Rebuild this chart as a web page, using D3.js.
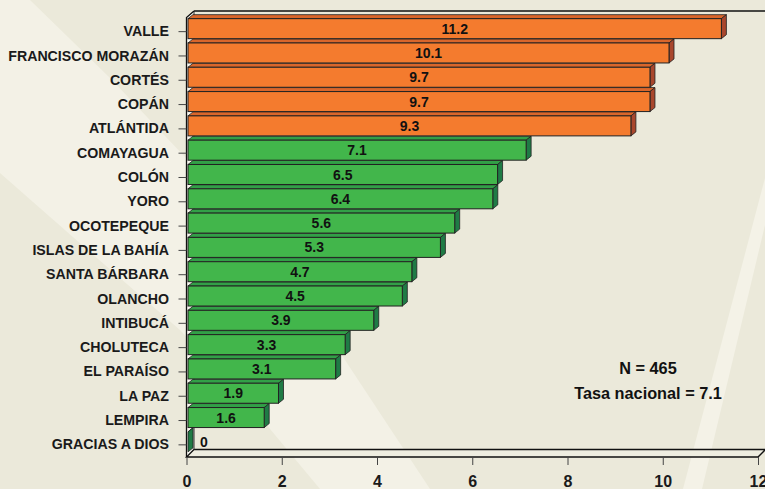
<!DOCTYPE html>
<html>
<head>
<meta charset="utf-8">
<script src="https://cdn.jsdelivr.net/npm/d3@7"></script>
<style>
  body { margin: 0; background: #ebe9da; }
  svg { display: block; font-family: "Liberation Sans", Arial, sans-serif; font-weight: bold; }
</style>
</head>
<body>
<div id="chart"></div>
<script>
// departamentos, ordered as drawn from top to bottom
var departamentos = ["VALLE", "FRANCISCO MORAZÁN", "CORTÉS", "COPÁN", "ATLÁNTIDA",
    "COMAYAGUA", "COLÓN", "YORO", "OCOTEPEQUE", "ISLAS DE LA BAHÍA", "SANTA BÁRBARA",
    "OLANCHO", "INTIBUCÁ", "CHOLUTECA", "EL PARAÍSO", "LA PAZ", "LEMPIRA", "GRACIAS A DIOS"];
var tasas = [11.2, 10.1, 9.7, 9.7, 9.3, 7.1, 6.5, 6.4, 5.6, 5.3, 4.7, 4.5, 3.9, 3.3, 3.1, 1.9, 1.6, 0];
var tasaNacional = 7.1;
var totalN = 465;
var xTicks = [0, 2, 4, 6, 8, 10, 12];

var width = 765, height = 489;
var margin = {top: 19.5, right: 7, bottom: 32, left: 186.5};

var svg = d3.select("#chart").append("svg")
    .attr("width", width)
    .attr("height", height);

// background with light diagonal bands
svg.append("rect").attr("width", width).attr("height", height).attr("fill", "#ebe9da");
svg.append("path")
    .attr("d", "M0,0 L30,0 L110,78 L185,157 L265,262 L343,357 L430,489 L320,489 L250,405 L180,330 L90,252 L0,173 Z")
    .attr("fill", "#f3f1e6");
svg.append("path")
    .attr("d", "M765,178 L765,225 L702,489 L683,489 Z")
    .attr("fill", "#f4f2e7");

var x = d3.scaleLinear()
    .domain([0, 12])
    .range([margin.left, width - margin.right]);

var y = d3.scaleBand()
    .domain(departamentos)
    .range([margin.top, height - margin.bottom])
    .padding(0);

var x0 = x(0), x1 = x(12), yBottom = height - margin.bottom;
var wd = 7.5; // wall depth

// left wall and floor
svg.append("polygon")
    .attr("points", [[x0, 17.5], [x0 + wd, 11], [x0 + wd, yBottom - wd], [x0, yBottom]].join(" "))
    .attr("fill", "#f7f6ef");
svg.append("polygon")
    .attr("points", [[x0, yBottom], [x1, yBottom], [x1 + wd, yBottom - wd], [x0 + wd, yBottom - wd]].join(" "))
    .attr("fill", "#eeede0")
    .attr("stroke", "#111")
    .attr("stroke-width", 1.3);
svg.append("line")
    .attr("x1", x0 + wd).attr("y1", 11).attr("x2", width).attr("y2", 11)
    .attr("stroke", "#111").attr("stroke-width", 1.3);
svg.append("line")
    .attr("x1", x0 + wd).attr("y1", 11).attr("x2", x0 + wd).attr("y2", yBottom - wd)
    .attr("stroke", "#333").attr("stroke-width", 1);
svg.append("path")
    .attr("d", "M" + x0 + "," + yBottom + " L" + x0 + ",17.5 L" + (x0 + wd) + ",11")
    .attr("fill", "none").attr("stroke", "#111").attr("stroke-width", 1.3);

// bars
var bh = 20, dx = 5, dy = 4, shift = 1.5;
var data = departamentos.map(function(d, i) { return {name: d, value: tasas[i], idx: i}; });

function colors(d) {
    if (d.idx < 5) return {front: "#f47b2e", top: "#d9662b", side: "#a9472d"};
    return {front: "#42b64b", top: "#32a047", side: "#1f7b45"};
}

var bars = svg.append("g").selectAll("g.bar")
    .data(data.slice().reverse())
    .enter().append("g").attr("class", "bar");

bars.each(function(d) {
    var g = d3.select(this);
    var c = colors(d);
    var fx0 = x(0) + shift, fx1 = x(d.value) + shift;
    var fy = y(d.name) + (y.bandwidth() - bh) / 2 - 3;
    g.append("polygon")
        .attr("points", [[fx0, fy], [fx1, fy], [fx1 + dx, fy - dy], [fx0 + dx, fy - dy]].join(" "))
        .attr("fill", c.top).attr("stroke", "#222").attr("stroke-width", 0.8);
    g.append("polygon")
        .attr("points", [[fx1, fy], [fx1 + dx, fy - dy], [fx1 + dx, fy + bh - dy], [fx1, fy + bh]].join(" "))
        .attr("fill", c.side).attr("stroke", "#222").attr("stroke-width", 0.8);
    if (d.value > 0) {
        g.append("rect")
            .attr("x", fx0).attr("y", fy)
            .attr("width", fx1 - fx0).attr("height", bh)
            .attr("fill", c.front).attr("stroke", "#222").attr("stroke-width", 1);
    }
    g.append("text")
        .attr("x", d.value > 0 ? (fx0 + fx1) / 2 : fx1 + dx + 7)
        .attr("y", fy + bh / 2)
        .attr("dy", "0.36em")
        .attr("text-anchor", d.value > 0 ? "middle" : "start")
        .style("font-size", "14px")
        .attr("fill", "#111")
        .text(d3.format(d.value % 1 === 0 ? "d" : ".1f")(d.value));
});

// y axis (category labels)
var yAxis = svg.append("g")
    .attr("transform", "translate(" + x0 + ",0)")
    .call(d3.axisLeft(y).tickSize(8).tickPadding(9.5));
yAxis.select(".domain").remove();
yAxis.selectAll(".tick line").attr("stroke", "#444");
yAxis.selectAll(".tick text")
    .style("font-size", "14.2px")
    .style("font-family", "'Liberation Sans', Arial, sans-serif")
    .style("font-weight", "bold")
    .attr("fill", "#1a1a1a");

// x axis
var xAxis = svg.append("g")
    .attr("transform", "translate(0," + yBottom + ")")
    .call(d3.axisBottom(x).tickValues(xTicks).tickSize(8).tickPadding(11).tickFormat(d3.format("d")));
xAxis.select(".domain").remove();
xAxis.selectAll(".tick line").attr("stroke", "#444");
xAxis.selectAll(".tick text")
    .style("font-size", "16px")
    .style("font-family", "'Liberation Sans', Arial, sans-serif")
    .style("font-weight", "bold")
    .attr("fill", "#1a1a1a");

// annotation
svg.append("text")
    .attr("x", 648).attr("y", 373.5)
    .attr("text-anchor", "middle")
    .style("font-size", "16.3px")
    .attr("fill", "#111")
    .text("N = " + totalN);
svg.append("text")
    .attr("x", 648).attr("y", 399)
    .attr("text-anchor", "middle")
    .style("font-size", "16.3px")
    .attr("fill", "#111")
    .text("Tasa nacional = " + tasaNacional);
</script>
</body>
</html>
